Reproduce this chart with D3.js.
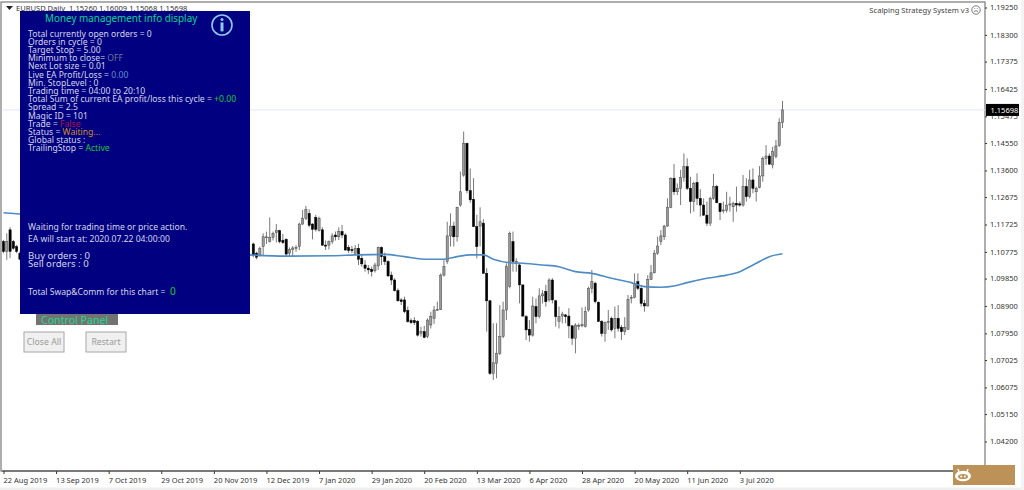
<!DOCTYPE html>
<html>
<head>
<meta charset="utf-8">
<script src="https://cdn.jsdelivr.net/npm/d3@7"></script>
<style>
	html, body { margin: 0; padding: 0; background: #fff; overflow: hidden; }
	svg { display: block; }
	text { font-family: "Noto Sans", sans-serif; }
</style>
</head>
<body>
<div id="chart"></div>
<script>
// EURUSD daily, prices in 1/10000. Bars 6..75 sit behind the info panel and are left out.
var barNumbers = d3.range(0, 6).concat(d3.range(76, 238));

var opens = [11113,11079,11154,11113,11096,11073,
	11105,11073,11067,11096,11128,11113,11128,11144,11151,11117,
	11121,11073,11086,11090,11096,11174,11194,11211,11174,11197,
	11151,11154,11101,11101,11113,11136,11130,11148,11136,11093,
	11086,11073,11090,11055,11032,11021,11017,11012,11029,11093,
	11061,11044,10997,10980,10943,10911,10911,10874,10839,10839,
	10836,10795,10801,10784,10824,10847,10876,10878,10997,11044,
	11133,11167,11130,11240,11344,11454,11290,11260,11165,11167,
	11177,11003,10908,10656,10691,10726,10784,10876,10957,11113,
	11038,11032,10963,10853,10809,10789,10888,10853,10925,10940,
	10911,10980,10908,10836,10855,10859,10855,10821,10778,10821,
	10821,10818,10876,10951,10969,10903,10836,10795,10832,10847,
	10812,10847,10816,10801,10809,10916,10920,10974,10951,10899,
	10890,10982,11005,11073,11113,11130,11167,11232,11333,11286,
	11298,11336,11373,11298,11252,11318,11263,11240,11205,11177,
	11263,11304,11246,11221,11221,11240,11234,11246,11244,11240,
	11304,11269,11327,11286,11300,11341,11402,11410,11379,11408,
	11446,11526];

var highs = [11119,11142,11163,11119,11102,11079,
	11110,11078,11096,11142,11148,11197,11148,11174,11154,11140,
	11125,11093,11098,11101,11179,11223,11237,11225,11177,11206,
	11200,11163,11117,11117,11142,11148,11163,11171,11142,11101,
	11098,11101,11105,11067,11049,11032,11026,11040,11096,11096,
	11075,11049,11009,10986,10951,10917,10922,10888,10847,10851,
	10841,10818,10821,10847,10870,10890,10905,11003,11049,11182,
	11211,11182,11234,11356,11495,11456,11367,11333,11206,11232,
	11191,11021,10911,10830,10830,10893,10905,11038,11148,11148,
	11055,11038,10963,10859,10841,10922,10916,10951,10945,10963,
	10986,10986,10911,10888,10870,10862,10882,10824,10830,10830,
	10885,10888,10957,11015,10974,10905,10841,10836,10876,10853,
	10888,10893,10824,10851,10928,10928,11003,11003,10957,10911,
	10997,11032,11084,11130,11153,11171,11263,11336,11382,11315,
	11362,11419,11402,11338,11321,11350,11295,11263,11252,11269,
	11348,11310,11248,11252,11286,11269,11252,11304,11252,11344,
	11333,11362,11367,11304,11375,11408,11448,11419,11442,11466,
	11541,11601];

var lows = [11073,11050,11056,11085,11073,11050,
	11059,11052,11061,11063,11105,11110,11117,11110,11107,11105,
	11063,11063,11063,11078,11084,11171,11188,11163,11121,11148,
	11148,11098,11084,11086,11105,11117,11119,11125,11082,11073,
	11073,11067,11032,11026,11009,11001,10992,11006,11015,11032,
	11032,10992,10963,10940,10905,10893,10865,10832,10828,10824,
	10784,10784,10778,10778,10812,10828,10874,10876,10992,11036,
	11096,11096,11113,11234,11338,11281,11248,11165,11055,11096,
	11003,10801,10651,10633,10639,10720,10778,10841,10951,11009,
	11009,10899,10853,10772,10766,10784,10830,10847,10899,10888,
	10905,10899,10818,10812,10830,10830,10778,10755,10726,10807,
	10816,10815,10870,10934,10899,10836,10784,10766,10807,10801,
	10778,10801,10772,10789,10807,10899,10916,10945,10888,10870,
	10888,10980,11003,11067,11101,11119,11165,11229,11275,11275,
	11240,11321,11292,11211,11217,11240,11200,11202,11167,11167,
	11258,11246,11188,11211,11214,11217,11182,11217,11234,11234,
	11252,11263,11281,11252,11298,11321,11379,11379,11367,11402,
	11442,11507];

var closes = [11079,11113,11079,11090,11079,11052,
	11067,11059,11090,11130,11130,11128,11142,11151,11113,11110,
	11070,11086,11091,11093,11174,11194,11225,11170,11156,11156,
	11194,11101,11098,11113,11133,11130,11148,11136,11084,11082,
	11082,11090,11052,11036,11021,11015,11009,11032,11093,11061,
	11044,10994,10980,10943,10908,10905,10870,10836,10832,10832,
	10789,10801,10781,10841,10853,10876,10878,10997,11026,11133,
	11167,11130,11232,11286,11454,11290,11258,11165,11096,11182,
	11003,10908,10656,10693,10726,10784,10876,11026,11142,11044,
	11044,10963,10855,10807,10789,10890,10853,10925,10932,10905,
	10980,10911,10853,10853,10862,10853,10821,10778,10824,10823,
	10826,10870,10951,10974,10905,10836,10795,10832,10836,10807,
	10847,10812,10801,10816,10913,10920,10969,10951,10899,10890,
	10982,11005,11073,11098,11133,11167,11232,11333,11286,11298,
	11336,11373,11298,11252,11315,11263,11240,11205,11177,11263,
	11304,11248,11217,11223,11240,11244,11246,11240,11240,11304,
	11269,11327,11298,11298,11341,11402,11410,11382,11425,11445,
	11526,11570];

var maLeftBars = [0, 5];
var maLeftValues = [11213, 11209];
var maRightBars = [75,86,100,107,116,122,129,134,138,142,146,149,154,158,164,169,174,179,185,191,195,200,204,208,214,220,224,229,233,237];
var maRightValues = [11067,11063,11064,11067,11069,11061,11052,11052,11061,11067,11067,11052,11040,11038,11032,11026,11009,11003,10986,10971,10957,10955,10959,10971,10986,10997,11009,11038,11061,11071];

var priceTicks = [1.1925,1.183,1.17375,1.16425,1.15475,1.1455,1.136,1.12675,1.11725,1.10775,1.0985,1.089,1.0795,1.07025,1.06075,1.0515,1.042];
var lastPrice = 1.15698;

var dateBars = d3.range(0, 225, 16);
var dateLabels = ["22 Aug 2019","13 Sep 2019","7 Oct 2019","29 Oct 2019","20 Nov 2019","12 Dec 2019","7 Jan 2020","29 Jan 2020","20 Feb 2020","13 Mar 2020","6 Apr 2020","28 Apr 2020","20 May 2020","11 Jun 2020","3 Jul 2020"];

var headerText = "EURUSD,Daily  1.15260 1.16009 1.15068 1.15698";
var expertName = "Scalping Strategy System v3";
var panelTitle = "Money management info display";
var panelLines = [
	[["Total currently open orders = 0"]],
	[["Orders in cycle = 0"]],
	[["Target Stop = 5.00"]],
	[["Minimum to close= "], ["OFF", "#77778f"]],
	[["Next Lot size = 0.01"]],
	[["Live EA Profit/Loss = "], ["0.00", "#5f8fd0"]],
	[["Min. StopLevel : 0"]],
	[["Trading time = 04:00 to 20:10"]],
	[["Total Sum of current EA profit/loss this cycle = "], ["+0.00", "#19c832"]],
	[["Spread = 2.5"]],
	[["Magic ID = 101"]],
	[["Trade = "], ["False", "#b8103c"]],
	[["Status = "], ["Waiting...", "#d08c2a"]],
	[["Global status :"]],
	[["TrailingStop = "], ["Active", "#19c832"]]
];
var waitLines = ["Waiting for trading time or price action.", "EA will start at: 2020.07.22 04:00:00"];
var orderLines = ["Buy orders : 0", "Sell orders : 0"];

var width = 1024, height = 490;
var panelText = "#d6d6ea";
var axisFont = "7.5px";
var infoFont = "8.6px";

var svg = d3.select("#chart").append("svg")
	.attr("width", width)
	.attr("height", height);

var x = d3.scaleLinear().domain([0, 237]).range([3.5, 782.5]);
var y = d3.scaleLinear().domain([1.1925, 1.042]).range([7.5, 441.5]);

// window frame
svg.append("rect").attr("x", 1).attr("y", 2).attr("width", 984).attr("height", 469)
	.attr("fill", "#fff").attr("stroke", "#8c8c8c").attr("stroke-width", 1.4);
svg.append("rect").attr("x", 0).attr("y", 487.5).attr("width", width).attr("height", 2.5).attr("fill", "#efefef");
svg.append("rect").attr("x", 1021).attr("y", 0).attr("width", 3).attr("height", height).attr("fill", "#f4f4f4");

svg.append("line").attr("x1", 3).attr("x2", 985)
	.attr("y1", y(lastPrice)).attr("y2", y(lastPrice))
	.attr("stroke", "#e6e6fa");

// candles
var bars = barNumbers.map(function(_bar, _i) {
	return { bar: _bar, o: opens[_i] / 10000, h: highs[_i] / 10000, l: lows[_i] / 10000, c: closes[_i] / 10000 };
});

var candle = svg.append("g").attr("class", "candles").selectAll("g")
	.data(bars)
	.enter().append("g");

candle.append("line")
	.attr("x1", function(_d) { return x(_d.bar); })
	.attr("x2", function(_d) { return x(_d.bar); })
	.attr("y1", function(_d) { return y(_d.h); })
	.attr("y2", function(_d) { return y(_d.l); })
	.attr("stroke", "#555")
	.attr("stroke-width", 0.8);

candle.append("rect")
	.attr("x", function(_d) { return x(_d.bar) - 1.1; })
	.attr("width", 2.2)
	.attr("y", function(_d) { return y(Math.max(_d.o, _d.c)); })
	.attr("height", function(_d) { return Math.max(1, Math.abs(y(_d.o) - y(_d.c))); })
	.attr("fill", function(_d) { return _d.c >= _d.o ? "#9a9a9a" : "#000"; })
	.attr("stroke", function(_d) { return _d.c >= _d.o ? "#4a4a4a" : "#000"; })
	.attr("stroke-width", 0.5);

// moving average
var maLine = d3.line()
	.x(function(_d) { return x(_d[0]); })
	.y(function(_d) { return y(_d[1] / 10000); })
	.curve(d3.curveMonotoneX);

[d3.zip(maLeftBars, maLeftValues), d3.zip(maRightBars, maRightValues)].forEach(function(_points) {
	svg.append("path")
		.attr("d", maLine(_points))
		.attr("fill", "none")
		.attr("stroke", "#4f8cc4")
		.attr("stroke-width", 1.6);
});

// price axis
var yAxis = d3.axisRight(y)
	.tickValues(priceTicks)
	.tickSize(2)
	.tickPadding(3)
	.tickFormat(d3.format(".5f"));

var yAxisG = svg.append("g").attr("transform", "translate(985,0)").call(yAxis);
yAxisG.select(".domain").remove();
yAxisG.selectAll("line").attr("stroke", "#333");
yAxisG.selectAll("text").attr("fill", "#333").style("font-size", axisFont);

// time axis
var xAxis = d3.axisBottom(x)
	.tickValues(dateBars)
	.tickSize(3)
	.tickFormat(function(_d, _i) { return dateLabels[_i]; });

var xAxisG = svg.append("g").attr("transform", "translate(0,471)").call(xAxis);
xAxisG.select(".domain").remove();
xAxisG.selectAll("line").attr("stroke", "#333");
xAxisG.selectAll("text")
	.attr("fill", "#333")
	.attr("text-anchor", "start")
	.attr("x", -0.5)
	.attr("y", 7)
	.style("font-size", axisFont);

svg.append("line").attr("x1", 2).attr("x2", 985).attr("y1", 471).attr("y2", 471)
	.attr("stroke", "#444").attr("stroke-width", 1);

// last price label
svg.append("rect").attr("x", 986).attr("y", y(lastPrice) - 6).attr("width", 33).attr("height", 12).attr("fill", "#000");
svg.append("text").attr("x", 990.5).attr("y", y(lastPrice) + 3).attr("fill", "#fff")
	.style("font-size", axisFont).text(d3.format(".5f")(lastPrice));

// header texts
svg.append("path").attr("d", "M6,6 h7 l-3.5,4 z").attr("fill", "#222");
svg.append("text").attr("x", 16).attr("y", 10.8).attr("fill", "#333")
	.style("font-size", "7.6px").attr("xml:space", "preserve").text(headerText);
svg.append("text").attr("x", 969).attr("y", 12.5).attr("text-anchor", "end").attr("fill", "#444")
	.style("font-size", "7.6px").text(expertName);

var smile = svg.append("g").attr("transform", "translate(976,10)").attr("fill", "none").attr("stroke", "#444").attr("stroke-width", 0.7);
smile.append("circle").attr("r", 4.2);
smile.append("path").attr("d", "M-2.2,1.6 Q0,-0.2 2.2,1.6");
smile.append("path").attr("d", "M-1.6,-1.4 h0.8 M0.8,-1.4 h0.8");

// info panel
svg.append("rect").attr("x", 20).attr("y", 11).attr("width", 230).attr("height", 303).attr("fill", "#000080");
svg.append("text").attr("x", 45).attr("y", 22).attr("fill", "#00d890")
	.style("font-size", "9.9px").text(panelTitle);

var icon = svg.append("g").attr("transform", "translate(222,25)");
icon.append("circle").attr("r", 10).attr("fill", "none").attr("stroke", "#8ec8ec").attr("stroke-width", 1.6);
icon.append("circle").attr("cy", -5.4).attr("r", 1.5).attr("fill", "#8ec8ec");
icon.append("rect").attr("x", -1.5).attr("y", -2.6).attr("width", 3).attr("height", 9).attr("fill", "#8ec8ec");

var infoText = svg.append("g").selectAll("text")
	.data(panelLines)
	.enter().append("text")
	.attr("x", 28)
	.attr("y", function(_d, _i) { return 36.5 + _i * 8.2; })
	.attr("fill", panelText)
	.style("font-size", infoFont);

infoText.selectAll("tspan")
	.data(function(_d) { return _d; })
	.enter().append("tspan")
	.attr("fill", function(_d) { return _d[1] || panelText; })
	.attr("xml:space", "preserve")
	.text(function(_d) { return _d[0]; });

svg.append("g").selectAll("text")
	.data(waitLines)
	.enter().append("text")
	.attr("x", 28)
	.attr("y", function(_d, _i) { return 229.5 + _i * 12.4; })
	.attr("fill", panelText)
	.style("font-size", infoFont)
	.text(function(_d) { return _d; });

svg.append("g").selectAll("text")
	.data(orderLines)
	.enter().append("text")
	.attr("x", 28)
	.attr("y", function(_d, _i) { return 258.5 + _i * 8.2; })
	.attr("fill", panelText)
	.style("font-size", "9.6px")
	.text(function(_d) { return _d; });

var swap = svg.append("text").attr("x", 28).attr("y", 295).attr("fill", panelText).style("font-size", infoFont);
swap.append("tspan").attr("xml:space", "preserve").text("Total Swap&Comm for this chart =  ");
swap.append("tspan").attr("fill", "#19c832").style("font-size", "10px").text("0");

// control panel and buttons
svg.append("rect").attr("x", 36).attr("y", 314).attr("width", 82).attr("height", 11).attr("fill", "#737373");
svg.append("text").attr("x", 41).attr("y", 324).attr("fill", "#20d890")
	.style("font-size", "10.6px").text("Control Panel");

[["Close All", 24], ["Restart", 86]].forEach(function(_b) {
	svg.append("rect").attr("x", _b[1]).attr("y", 332).attr("width", 40).attr("height", 20)
		.attr("fill", "#f0f0f0").attr("stroke", "#a8a8a8");
	svg.append("text").attr("x", _b[1] + 20).attr("y", 345).attr("text-anchor", "middle")
		.attr("fill", "#9a9a9a").style("font-size", "8.7px").text(_b[0]);
});

// badge
svg.append("rect").attr("x", 953).attr("y", 465).attr("width", 62).attr("height", 20).attr("fill", "#bd9259");
var bot = svg.append("g").attr("transform", "translate(963,476)");
bot.append("ellipse").attr("rx", 8).attr("ry", 5.2).attr("fill", "#fff");
bot.append("ellipse").attr("cx", 0).attr("cy", 0.5).attr("rx", 5).attr("ry", 2.6).attr("fill", "#bd9259");
bot.append("circle").attr("cx", -1.8).attr("cy", 0.5).attr("r", 1).attr("fill", "#fff");
bot.append("circle").attr("cx", 1.8).attr("cy", 0.5).attr("r", 1).attr("fill", "#fff");
bot.append("path").attr("d", "M-4,-4 L-5,-7 M4,-4 L5,-7").attr("stroke", "#fff").attr("stroke-width", 1.4);
</script>
</body>
</html>
